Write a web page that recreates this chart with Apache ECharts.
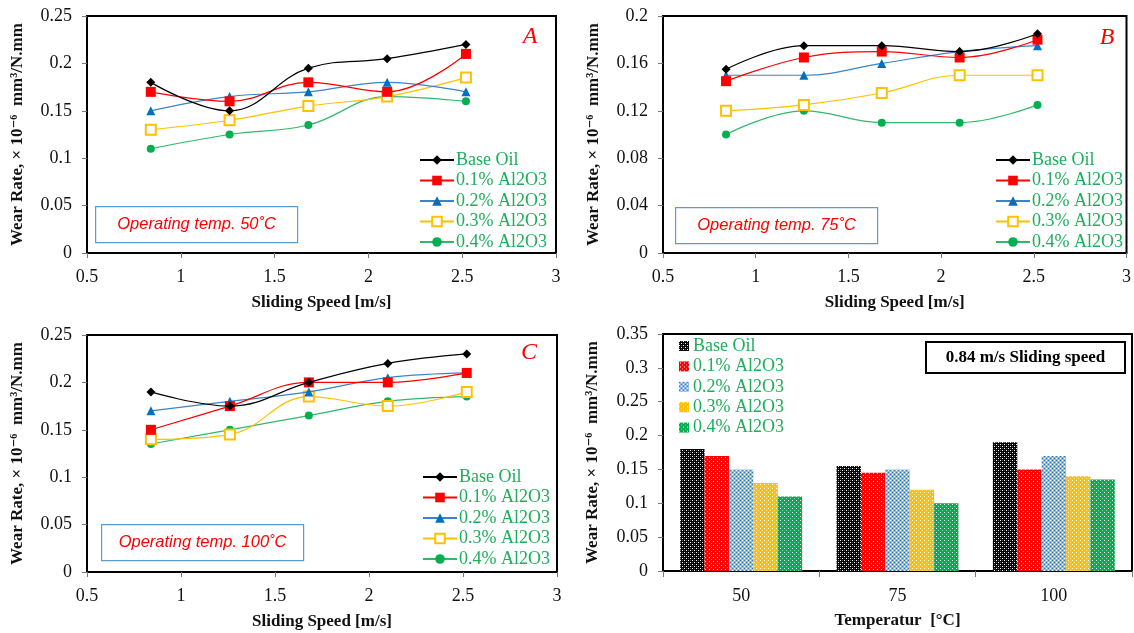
<!DOCTYPE html>
<html>
<head>
<meta charset="utf-8">
<script src="https://cdn.jsdelivr.net/npm/echarts@6/dist/echarts.min.js"></script>
<style>
html,body{margin:0;padding:0;background:#fff;}
#chart{width:1134px;height:633px;}
</style>
</head>
<body>
<div id="chart"></div>
<script>
// ---------- DATA ----------
const speeds = [0.84, 1.26, 1.68, 2.1, 2.52];
const seriesNames = ['Base Oil', '0.1% Al2O3', '0.2% Al2O3', '0.3% Al2O3', '0.4% Al2O3'];

// Panel A (50 °C)
const A_base = [0.18, 0.15, 0.195, 0.205, 0.22];
const A_01 = [0.17, 0.16, 0.18, 0.17, 0.21];
const A_02 = [0.15, 0.165, 0.17, 0.18, 0.17];
const A_03 = [0.13, 0.14, 0.155, 0.165, 0.185];
const A_04 = [0.11, 0.125, 0.135, 0.165, 0.16];

// Panel B (75 °C)
const B_base = [0.155, 0.175, 0.175, 0.17, 0.185];
const B_01 = [0.145, 0.165, 0.17, 0.165, 0.18];
const B_02 = [0.15, 0.15, 0.16, 0.17, 0.175];
const B_03 = [0.12, 0.125, 0.135, 0.15, 0.15];
const B_04 = [0.1, 0.12, 0.11, 0.11, 0.125];

// Panel C (100 °C)
const C_base = [0.19, 0.175, 0.2, 0.22, 0.23];
const C_01 = [0.15, 0.175, 0.2, 0.2, 0.21];
const C_02 = [0.17, 0.18, 0.19, 0.205, 0.21];
const C_03 = [0.14, 0.145, 0.185, 0.175, 0.19];
const C_04 = [0.135, 0.15, 0.165, 0.18, 0.185];

// Panel D (0.84 m/s)
const temps = ['50', '75', '100'];
const D_base = [0.18, 0.155, 0.19];
const D_01 = [0.17, 0.145, 0.15];
const D_02 = [0.15, 0.15, 0.17];
const D_03 = [0.13, 0.12, 0.14];
const D_04 = [0.11, 0.1, 0.135];

const yTitle = 'Wear Rate, × 10⁻⁶  mm³/N.mm';
const xTitleLine = 'Sliding Speed [m/s]';
const xTitleBar = 'Temperatur  [°C]';

// ---------- STYLE ----------
const SERIF = "'Liberation Serif','DejaVu Serif',serif";
const SANS = "'Liberation Sans','DejaVu Sans',sans-serif";
const legendGreen = '#1fae5b';

const lineStyles = [
  {color: '#000000', symbol: 'diamond', symbolSize: 9},
  {color: '#ff0000', symbol: 'rect', symbolSize: 10},
  {color: '#0070c0', symbol: 'triangle', symbolSize: 9, line: '#3a84c8'},
  {color: '#ffc000', symbol: 'emptyRect', symbolSize: 10},
  {color: '#00b050', symbol: 'circle', symbolSize: 8, line: '#33b86a'}
];

function pattern(bg, layers, size) {
  const c = document.createElement('canvas');
  c.width = size; c.height = size;
  const ctx = c.getContext('2d');
  ctx.fillStyle = bg; ctx.fillRect(0, 0, size, size);
  layers.forEach(l => {
    ctx.fillStyle = l[0];
    l[1].forEach(p => ctx.fillRect(p[0], p[1], 1, 1));
  });
  return {image: c, repeat: 'repeat'};
}
const barFills = [
  pattern('#000000', [['#ffffff', [[0,0],[2,2]]], ['#555555', [[2,0],[0,2]]]], 4),
  pattern('#ff0000', [['#ffffff', [[1,1]]], ['#ff9a9a', [[3,3]]]], 4),
  pattern('#8fbbe6', [['#2e75b6', [[0,0],[2,2]]], ['#ffffff', [[2,0],[0,2]]]], 4),
  pattern('#ffc000', [['#ffffff', [[0,0]]], ['#ffe08a', [[2,2]]]], 4),
  pattern('#00b050', [['#ffffff', [[0,0]]], ['#7fd6a4', [[2,2]]]], 4)
];

const panels = [
  {key: 'A', data: [A_base, A_01, A_02, A_03, A_04], max: 0.25, interval: 0.05},
  {key: 'B', data: [B_base, B_01, B_02, B_03, B_04], max: 0.2, interval: 0.04},
  {key: 'C', data: [C_base, C_01, C_02, C_03, C_04], max: 0.25, interval: 0.05}
];

const grids = [
  {left: 87, top: 16, width: 469, height: 237},
  {left: 663, top: 16, width: 469, height: 237},
  {left: 87, top: 335, width: 470, height: 237},
  {left: 663, top: 334, width: 469, height: 237}
].map(g => Object.assign({show: true, borderColor: '#000', borderWidth: 2, backgroundColor: 'transparent'}, g));

const axisLabelStyle = {fontFamily: SERIF, fontSize: 18, color: '#111'};
const nameStyle = {fontFamily: SERIF, fontSize: 17, fontWeight: 'bold', color: '#111'};

const xAxes = [], yAxes = [], series = [], legends = [];

panels.forEach((p, i) => {
  xAxes.push({
    type: 'value', gridIndex: i, min: 0.5, max: 3, interval: 0.5,
    splitLine: {show: false},
    axisLine: {show: true, lineStyle: {color: '#000', width: 1}},
    axisTick: {show: true, length: 5, lineStyle: {color: '#777'}},
    axisLabel: Object.assign({margin: 15}, axisLabelStyle),
    name: xTitleLine, nameLocation: 'middle', nameGap: 41, nameTextStyle: nameStyle
  });
  yAxes.push({
    type: 'value', gridIndex: i, min: 0, max: p.max, interval: p.interval,
    splitLine: {show: false},
    axisLine: {show: true, lineStyle: {color: '#000', width: 1}},
    axisTick: {show: true, length: 5, lineStyle: {color: '#777'}},
    axisLabel: Object.assign({margin: 15}, axisLabelStyle),
    name: yTitle, nameLocation: 'middle', nameGap: 61, nameTextStyle: nameStyle
  });
  const names = [];
  p.data.forEach((vals, s) => {
    const st = lineStyles[s];
    const nm = p.key + '|' + seriesNames[s];
    names.push(nm);
    series.push({
      type: 'line', name: nm, xAxisIndex: i, yAxisIndex: i,
      data: speeds.map((x, k) => [x, vals[k]]),
      smooth: 0.4,
      symbol: st.symbol, symbolSize: st.symbolSize,
      lineStyle: {color: st.line || st.color, width: 1.2},
      itemStyle: {color: st.color, borderColor: st.color, borderWidth: st.symbol === 'emptyRect' ? 2 : 0},
      z: 10 - s
    });
  });
  legends.push({names: names});
});

// Bar panel D
xAxes.push({
  type: 'category', gridIndex: 3, data: temps,
  axisLine: {show: true, lineStyle: {color: '#000', width: 1}},
  axisTick: {show: true, length: 6, lineStyle: {color: '#777'}},
  axisLabel: Object.assign({margin: 16}, axisLabelStyle),
  name: xTitleBar, nameLocation: 'middle', nameGap: 41, nameTextStyle: nameStyle
});
yAxes.push({
  type: 'value', gridIndex: 3, min: 0, max: 0.35, interval: 0.05,
  splitLine: {show: false},
  axisLine: {show: true, lineStyle: {color: '#000', width: 1}},
  axisTick: {show: true, length: 5, lineStyle: {color: '#777'}},
  axisLabel: Object.assign({margin: 15}, axisLabelStyle),
  name: yTitle, nameLocation: 'middle', nameGap: 62, nameTextStyle: nameStyle
});
const barData = [D_base, D_01, D_02, D_03, D_04];
const barNames = [];
barData.forEach((vals, s) => {
  const nm = 'D|' + seriesNames[s];
  barNames.push(nm);
  series.push({
    type: 'bar', name: nm, xAxisIndex: 3, yAxisIndex: 3, data: vals,
    barGap: '0%', barCategoryGap: '22%',
    itemStyle: {color: barFills[s]}
  });
});

const legendPos = [
  {left: 419, top: 150}, {left: 995, top: 150}, {left: 422, top: 467}
];
const legendCfg = legends.map((l, i) => ({
  data: l.names, orient: 'vertical', left: legendPos[i].left, top: legendPos[i].top,
  padding: 0, itemGap: 0.5, itemWidth: 34, itemHeight: 12,
  selectedMode: false,
  formatter: n => n.split('|')[1],
  textStyle: {fontFamily: SERIF, fontSize: 18, lineHeight: 20, color: legendGreen, padding: [0, 0, 0, -3]}
}));
legendCfg.push({
  data: barNames.map(n => ({name: n, icon: 'rect'})), orient: 'vertical', left: 679, top: 336,
  padding: 0, itemGap: 0.4, itemWidth: 10, itemHeight: 10,
  selectedMode: false,
  formatter: n => n.split('|')[1],
  textStyle: {fontFamily: SERIF, fontSize: 18, lineHeight: 20, color: legendGreen, padding: [0, 0, 0, -1]}
});

function tempBox(x, y, label) {
  return {
    type: 'group', left: x, top: y, children: [
      {type: 'rect', shape: {x: 0, y: 0, width: 202, height: 36}, style: {fill: '#fff', stroke: '#5b9bd5', lineWidth: 1.2}},
      {type: 'text', x: 101, y: 18, style: {text: label, fill: '#ff0000', font: 'italic 16.5px ' + SANS, align: 'center', verticalAlign: 'middle'}}
    ]
  };
}
function panelLetter(x, y, t) {
  return {type: 'text', x: x, y: y, style: {text: t, fill: '#ff0000', font: 'italic 24px ' + SERIF, align: 'center', verticalAlign: 'middle'}};
}

const option = {
  animation: false,
  backgroundColor: '#fff',
  grid: grids,
  xAxis: xAxes,
  yAxis: yAxes,
  legend: legendCfg,
  series: series,
  graphic: [
    tempBox(95, 206, 'Operating temp. 50˚C'),
    tempBox(675, 207, 'Operating temp. 75˚C'),
    tempBox(101, 524, 'Operating temp. 100˚C'),
    panelLetter(530, 37, 'A'),
    panelLetter(1107, 38, 'B'),
    panelLetter(529, 353, 'C'),
    {
      type: 'group', left: 925, top: 341, children: [
        {type: 'rect', shape: {x: 0, y: 0, width: 199, height: 31}, style: {fill: '#fff', stroke: '#000', lineWidth: 2}},
        {type: 'text', x: 99.5, y: 16, style: {text: '0.84 m/s Sliding speed', fill: '#000', font: 'bold 17px ' + SERIF, align: 'center', verticalAlign: 'middle'}}
      ]
    }
  ]
};

const chart = echarts.init(document.getElementById('chart'), null, {renderer: 'canvas'});
chart.setOption(option);
</script>
</body>
</html>
